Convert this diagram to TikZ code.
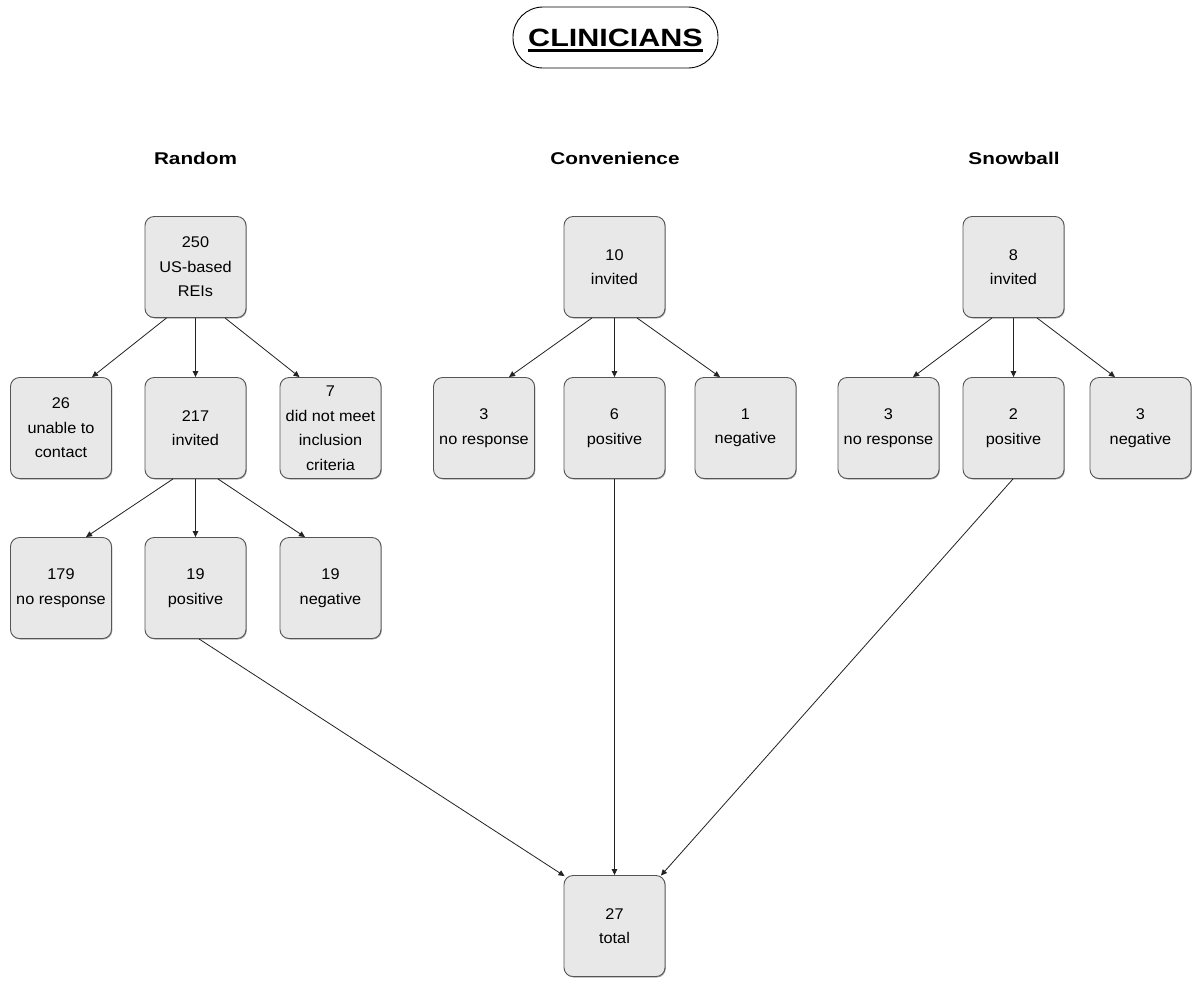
\documentclass[tikz,border=0pt]{standalone}
\usepackage{fontspec}
\setmainfont{Liberation Sans}
\newfontfamily\boxfont[FakeStretch=1.05]{Liberation Sans}
\newfontfamily\headfont[FakeStretch=1.22]{Liberation Sans}
\usetikzlibrary{arrows.meta,shadows}
\definecolor{boxfill}{HTML}{E8E8E8}
\definecolor{boxline}{HTML}{555555}
\definecolor{arrline}{HTML}{222222}
\newcommand\thickunderline[1]{\setbox0\hbox{#1}\rlap{\rule[-6pt]{\wd0}{3pt}}\box0}
\begin{document}
\begin{tikzpicture}[x=1pt,y=-1pt,
  cbox/.style={draw=boxline, fill=boxfill, line width=0.9pt, rounded corners=9pt,
    minimum width=101pt, minimum height=101pt, inner sep=0pt, align=center,
    font=\boxfont\fontsize{15.5}{24.5}\selectfont,
    drop shadow={shadow xshift=0.8pt, shadow yshift=-1pt, fill=black, opacity=0.35}},
  head/.style={font=\headfont\bfseries\fontsize{17}{20}\selectfont, inner sep=0pt},
  arr/.style={draw=arrline, line width=0.8pt, -{Triangle[length=6pt,width=5.5pt]}},
  lnk/.style={draw=arrline, line width=0.8pt}
]
\useasboundingbox[fill=white] (0,0) rectangle (1197,989);

\node[draw=black, line width=0.9pt, rounded corners=30pt, minimum width=205pt, minimum height=61pt,
  text depth=0pt, font=\headfont\bfseries\fontsize{25}{28}\selectfont] (title) at (615.5,37.5)
  {\thickunderline{CLINICIANS}};

\node[head] (hR) at (195.5,158) {Random};
\node[head] (hC) at (615,158) {Convenience};
\node[head] (hS) at (1014,158) {Snowball};

\node[cbox] (R0) at (195.5,267) {250\\US-based\\REIs};
\node[cbox] (R1) at (61,428) {26\\unable to\\contact};
\node[cbox] (R2) at (195.5,428) {217\\invited};
\node[cbox] (R3) at (330.5,428) {7\\did not meet\\inclusion\\criteria};
\node[cbox] (R4) at (61,588) {179\\no response};
\node[cbox] (R5) at (195.5,588) {19\\positive};
\node[cbox] (R6) at (330.5,588) {19\\negative};

\node[cbox] (C0) at (614.5,267) {10\\invited};
\node[cbox] (C1) at (484,428) {3\\no response};
\node[cbox] (C2) at (614.5,428) {6\\positive};
\node[cbox] (C3) at (745.5,428) {1\\negative};

\node[cbox] (S0) at (1013.5,267) {8\\invited};
\node[cbox] (S1) at (888.5,428) {3\\no response};
\node[cbox] (S2) at (1013.5,428) {2\\positive};
\node[cbox] (S3) at (1140.5,428) {3\\negative};

\node[cbox] (T) at (614.5,926) {27\\total};

\draw[arr] ([xshift=-29pt]R0.south) -- ([xshift=31pt]R1.north);
\draw[arr] (R0.south) -- (R2.north);
\draw[arr] ([xshift=29.5pt]R0.south) -- ([xshift=-31pt]R3.north);

\draw[arr] ([xshift=-22.5pt]R2.south) -- ([xshift=25pt]R4.north);
\draw[arr] (R2.south) -- (R5.north);
\draw[arr] ([xshift=22.5pt]R2.south) -- ([xshift=-25.5pt]R6.north);

\draw[arr] ([xshift=-22.5pt]C0.south) -- ([xshift=25pt]C1.north);
\draw[arr] (C0.south) -- (C2.north);
\draw[arr] ([xshift=22.5pt]C0.south) -- ([xshift=-25.5pt]C3.north);

\draw[arr] ([xshift=-21.5pt]S0.south) -- ([xshift=24.5pt]S1.north);
\draw[arr] (S0.south) -- (S2.north);
\draw[arr] ([xshift=23.5pt]S0.south) -- ([xshift=-25.5pt]S3.north);

\draw[arr] ([xshift=3.5pt]R5.south) -- ([xshift=1pt,yshift=-1pt]T.north west);
\draw[arr] (C2.south) -- (T.north);
\draw[arr] ([xshift=-0.5pt]S2.south) -- ([xshift=-4.5pt,yshift=-0.5pt]T.north east);
\end{tikzpicture}
\end{document}
